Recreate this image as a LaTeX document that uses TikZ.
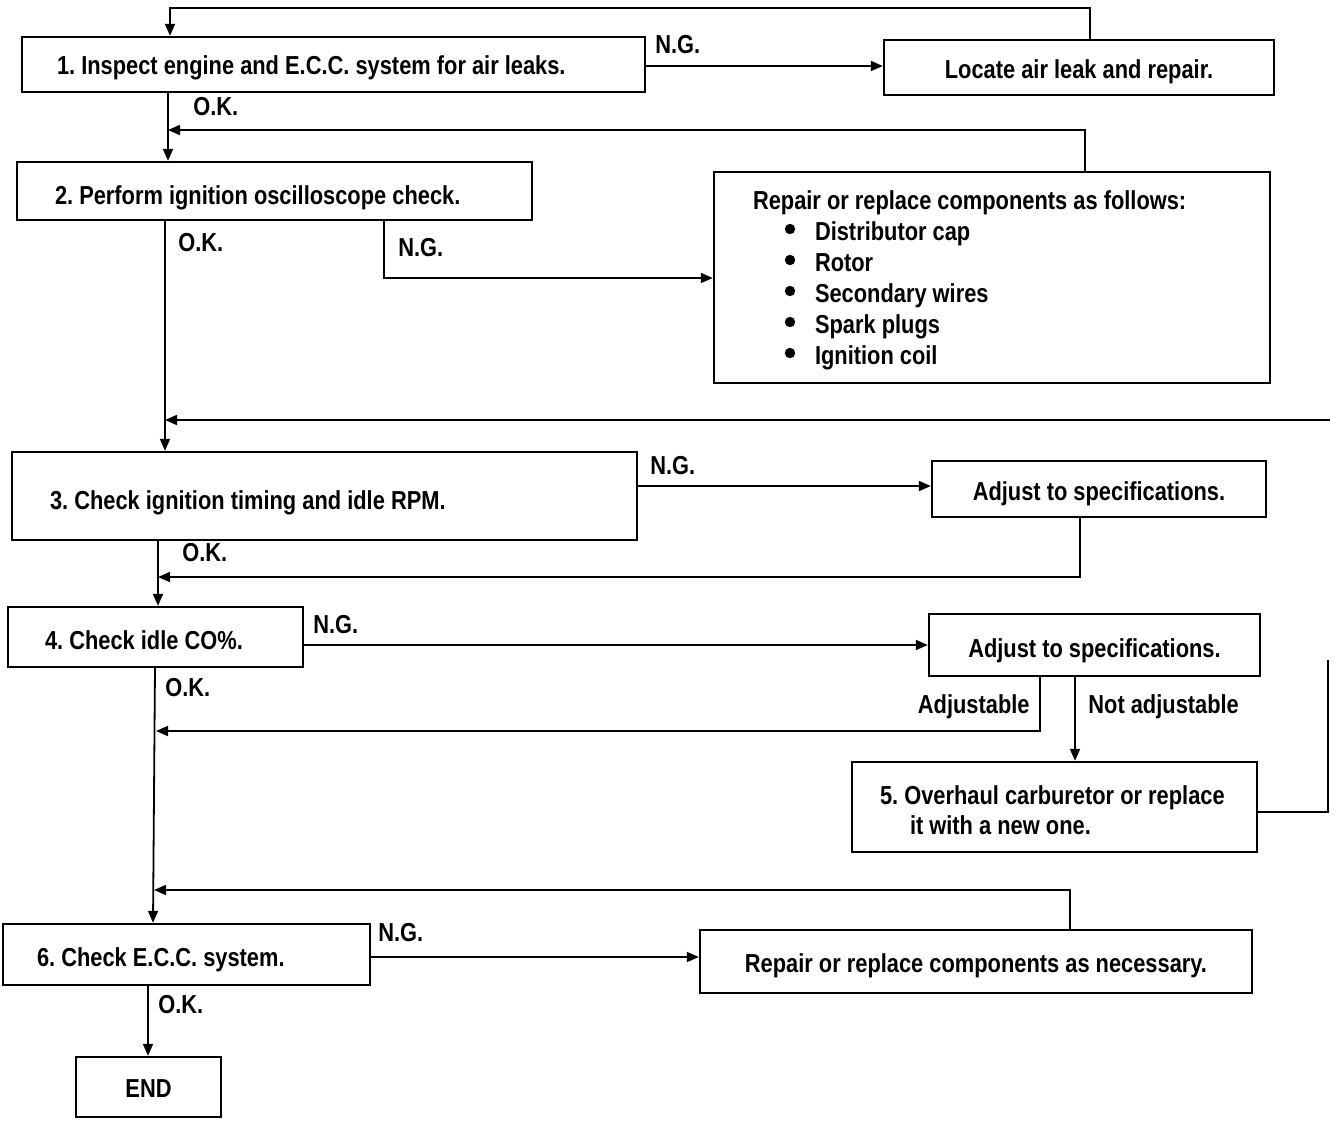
\documentclass[tikz,border=0pt]{standalone}
\usepackage{fontspec}
\setmainfont{Liberation Sans}[FakeStretch=0.84]
\usetikzlibrary{arrows.meta}
\newcommand{\lowtx}[2]{\raisebox{-#1}[0pt][0pt]{#2}}
\begin{document}
\begin{tikzpicture}[x=0.5pt,y=-0.5pt,
  box/.style={draw, line width=1.2pt, inner ysep=0pt, font=\bfseries\fontsize{13}{15.5}\selectfont},
  cbox/.style n args={2}{box, minimum width=#1, minimum height=#2, inner xsep=0pt, align=center},
  lbox/.style n args={3}{box, text width=#1, inner xsep=#2, minimum height=#3, align=flush left},
  lab/.style={anchor=west, inner sep=0pt, font=\bfseries\fontsize{13}{15.5}\selectfont},
  rlab/.style={anchor=east, inner sep=0pt, font=\bfseries\fontsize{13}{15.5}\selectfont},
  arr/.style={-{Triangle[length=6pt,width=5pt]}, line width=0.9pt},
  ln/.style={line width=0.9pt},
  bul/.style={fill=black}]
\useasboundingbox (0,0) rectangle (1344,1136);

% boxes
\node[lbox={276.5pt}{17.5pt}{27.5pt}] (b1) at (333.5,64.5) {\lowtx{5pt}{1.~Inspect engine and E.C.C. system for air leaks.}};
\node[cbox={195pt}{27.5pt}] (loc) at (1079,67.5) {\lowtx{5.5pt}{Locate air leak and repair.}};
\node[lbox={219.5pt}{19pt}{29pt}] (b2) at (274.5,191) {\lowtx{6.5pt}{2.~Perform ignition oscilloscope check.}};
\node[lbox={239pt}{19.5pt}{105.5pt}] (rep) at (992,277.5) {\rule{0pt}{12.5pt}\mbox{Repair or replace components as follows:}\\
\hspace*{31pt}Distributor cap\\
\hspace*{31pt}Rotor\\
\hspace*{31pt}Secondary wires\\
\hspace*{31pt}Spark plugs\\
\hspace*{31pt}Ignition coil};
\node[lbox={274.5pt}{19pt}{44pt}] (b3) at (324.5,496) {\lowtx{6.5pt}{3.~Check ignition timing and idle RPM.}};
\node[cbox={167pt}{28pt}] (adj1) at (1099,489) {\lowtx{5.5pt}{Adjust to specifications.}};
\node[lbox={110.5pt}{18.5pt}{30pt}] (b4) at (155.5,637) {\lowtx{6pt}{4.~Check idle CO\%.}};
\node[cbox={165.5pt}{31pt}] (adj2) at (1094.5,645) {\lowtx{6pt}{Adjust to specifications.}};
\node[lbox={174.5pt}{14pt}{45pt}, font=\bfseries\fontsize{13}{15}\selectfont] (b5) at (1054.5,807) {\rule{0pt}{12.5pt}\mbox{5.~Overhaul carburetor or replace}\\\hspace*{15pt}\mbox{it with a new one.}};
\node[lbox={149.5pt}{17pt}{30.5pt}] (b6) at (186.5,954.5) {\lowtx{6pt}{6.~Check E.C.C. system.}};
\node[cbox={276pt}{31.5pt}] (rep2) at (976,961.5) {\lowtx{5.5pt}{Repair or replace components as necessary.}};
\node[cbox={72.5pt}{30pt}] (end) at (148.5,1087) {\lowtx{5pt}{END}};

% bullets
\foreach \yy in {229,260,291,322,353} \fill[bul] (790,\yy) circle (2.6pt);

% labels
\node[lab] (l1) at (655,45) {N.G.};
\node[lab] (l2) at (193,107) {O.K.};
\node[lab] (l3) at (178,243) {O.K.};
\node[lab] (l4) at (398,248) {N.G.};
\node[lab] (l5) at (650,466) {N.G.};
\node[lab] (l6) at (182,553) {O.K.};
\node[lab] (l7) at (313,625) {N.G.};
\node[lab] (l8) at (165,688) {O.K.};
\node[rlab] (l9) at (1030,707) {Adjustable};
\node[lab] (l10) at (1088,707) {Not adjustable};
\node[lab] (l11) at (378,933) {N.G.};
\node[lab] (l12) at (158,1005) {O.K.};

% free ends
\coordinate (r1) at (1330,420);
\coordinate (r5) at (1328,660);

% connectors
\draw[arr] (1090,0 |- loc.north) -- (1090,8) -- (170,8) -- (170,0 |- b1.north);
\draw[arr] (b1.east |- 0,66) -- (loc.west |- 0,66);
\draw[arr] (168,0 |- b1.south) -- (168,0 |- b2.north);
\draw[arr] (1085,0 |- rep.north) -- (1085,130) -- (168,130);
\draw[arr] (165,0 |- b2.south) -- (165,0 |- b3.north);
\draw[arr] (384,0 |- b2.south) -- (384,278) -- (rep.west |- 0,278);
\draw[arr] (r1) -- (165,0 |- r1);
\draw[arr] (b3.east |- 0,486) -- (adj1.west |- 0,486);
\draw[arr] (1080,0 |- adj1.south) -- (1080,577) -- (158,577);
\draw[arr] (158,0 |- b3.south) -- (158,0 |- b4.north);
\draw[arr] (b4.east |- 0,645) -- (adj2.west |- 0,645);
\draw[arr] (1040,0 |- adj2.south) -- (1040,731) -- (156,731);
\draw[arr] (1075,0 |- adj2.south) -- (1075,0 |- b5.north);
\draw[ln] (b5.east |- 0,812) -- (1328,812) -- (r5);
\draw[arr] (155,0 |- b4.south) -- (153,0 |- b6.north);
\draw[arr] (1070,0 |- rep2.north) -- (1070,890) -- (154,890);
\draw[arr] (b6.east |- 0,957) -- (rep2.west |- 0,957);
\draw[arr] (148,0 |- b6.south) -- (148,0 |- end.north);
\end{tikzpicture}
\end{document}
